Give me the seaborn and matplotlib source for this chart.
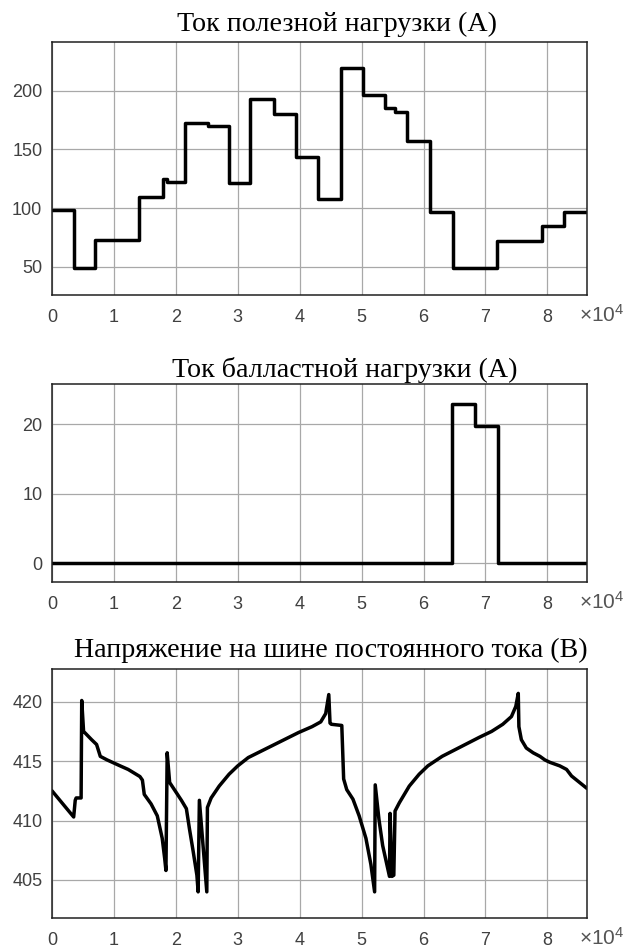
import numpy as np
import pandas as pd
import matplotlib
matplotlib.use("Agg")
import matplotlib.pyplot as plt
import seaborn as sns

# ---------------- data ----------------
# Useful-load current (A): step changes, times in seconds
load_t = [0, 3500, 6900, 14100, 18000, 18600, 21500, 25200, 28600, 32000, 35800,
          39400, 43000, 46600, 50200, 53800, 55400, 57400, 61100, 64700, 71900,
          79100, 82700, 86400]
load_v = [98.5, 48.6, 72.7, 109.7, 125.0, 122.4, 172.6, 169.9, 121.0, 192.9, 180.1,
          143.8, 107.4, 219.0, 196.5, 185.0, 182.1, 157.1, 96.9, 48.6, 72.2,
          84.7, 97.0, 97.0]

# Ballast-load current (A)
ballast_t = [0, 64600, 68300, 72000, 86400]
ballast_v = [0.0, 22.9, 19.7, 0.0, 0.0]

# DC bus voltage (V)
bus_t = [0, 3500, 3750, 3900, 4700, 4800, 5100, 6400, 7200, 7800, 8900, 11000,
         12300, 14200, 14600, 14900, 16000, 17000, 17800, 18200, 18400, 18600,
         19000, 20900, 21700, 22200, 22800, 23400, 23600, 23800, 25000, 25100,
         25700, 27000, 28600, 30000, 31700, 34400, 37100, 39800, 42000, 43400,
         44200, 44700, 44900, 45100, 46800, 47000, 47100, 47600, 48600, 49600,
         50700, 51500, 52100, 52200, 52800, 53400, 54500, 54600, 54900, 55200,
         55400, 56100, 57700, 59300, 60700, 63000, 66000, 69000, 71000, 72800,
         74200, 74900, 75300, 75400, 75800, 76600, 77700, 78800, 79600, 80400,
         82000, 83100, 83900, 86400]
bus_v = [412.5, 410.3, 411.7, 411.9, 411.9, 420.1, 417.5, 416.8, 416.4, 415.4,
         415.1, 414.6, 414.3, 413.7, 413.4, 412.2, 411.4, 410.4, 408.5, 406.8,
         405.8, 415.7, 413.2, 411.7, 411.0, 409.3, 407.4, 405.4, 404.0, 411.7,
         404.0, 411.1, 411.9, 412.9, 413.9, 414.6, 415.3, 416.0, 416.7, 417.4,
         417.9, 418.3, 419.0, 420.6, 418.2, 418.1, 418.0, 415.0, 413.5, 412.6,
         411.8, 410.4, 408.5, 406.3, 404.0, 413.0, 410.1, 407.9, 405.3, 410.6,
         405.3, 405.4, 410.8, 411.5, 412.9, 413.9, 414.6, 415.4, 416.2, 417.0,
         417.5, 418.1, 418.75, 419.6, 420.7, 417.9, 416.8, 416.1, 415.7, 415.4,
         415.1, 414.9, 414.6, 414.3, 413.75, 412.7]

titles = ["Ток полезной нагрузки (А)",
          "Ток балластной нагрузки (А)",
          "Напряжение на шине постоянного тока (В)"]
x_ticks = [0, 10000, 20000, 30000, 40000, 50000, 60000, 70000, 80000]
x_ticklabels = ["0", "1", "2", "3", "4", "5", "6", "7", "8"]
y_ticks = [[50, 100, 150, 200], [0, 10, 20], [405, 410, 415, 420]]

# ---------------- style ----------------
sns.set_style("white")
plt.rcParams["font.family"] = ["Liberation Sans", "DejaVu Sans"]
plt.rcParams["mathtext.fontset"] = "custom"
plt.rcParams["mathtext.rm"] = "Liberation Sans"

W, H = 627, 951
fig = plt.figure(figsize=(W / 100, H / 100), dpi=100)

# axes boxes in pixels: (left, top, right, bottom)
boxes = [(52, 42, 587, 295), (52, 384, 587, 582), (52, 669, 587, 918)]
ylims = [(26, 241.5), (-2.7, 25.8), (401.8, 422.75)]
title_cx = [337, 345, 331]
title_base = [31, 377, 657]

frames = [
    (pd.DataFrame({"t": load_t, "v": load_v}), "steps-post"),
    (pd.DataFrame({"t": ballast_t, "v": ballast_v}), "steps-post"),
    (pd.DataFrame({"t": bus_t, "v": bus_v}), "default"),
]

tick_color = "#404040"
for i, (box, (df, ds)) in enumerate(zip(boxes, frames)):
    l, t, r, b = box
    ax = fig.add_axes([l / W, 1 - b / H, (r - l) / W, (b - t) / H])
    sns.lineplot(data=df, x="t", y="v", ax=ax, color="black", linewidth=2.5,
                 drawstyle=ds, estimator=None, sort=False)
    ax.set_xlim(0, 86400)
    ax.set_ylim(*ylims[i])
    ax.set_xticks(x_ticks)
    ax.set_xticklabels(x_ticklabels)
    ax.set_yticks(y_ticks[i])
    ax.set_xlabel("")
    ax.set_ylabel("")
    ax.grid(True, color="#a8a8a8", linewidth=0.9)
    ax.set_axisbelow(True)
    for s in ax.spines.values():
        s.set_color("#202020")
        s.set_linewidth(1.1)
    ax.tick_params(axis="x", direction="in", length=4, pad=10,
                   labelsize=13, colors=tick_color)
    ax.tick_params(axis="y", direction="in", length=4, pad=7,
                   labelsize=13, colors=tick_color)
    for lab in ax.get_xticklabels() + ax.get_yticklabels():
        lab.set_color(tick_color)
    ax.annotate(r"$\mathregular{\times10^{4}}$", xy=(1, 0), xycoords="axes fraction",
                xytext=(-8, -27), textcoords="offset pixels", ha="left",
                va="baseline", fontsize=15, color="#555555",
                annotation_clip=False)
    fig.text(title_cx[i] / W, 1 - title_base[i] / H, titles[i],
             ha="center", va="baseline", fontsize=20.2,
             family=["Liberation Serif", "DejaVu Serif"], color="black")

fig.savefig("out.png", dpi=100)
